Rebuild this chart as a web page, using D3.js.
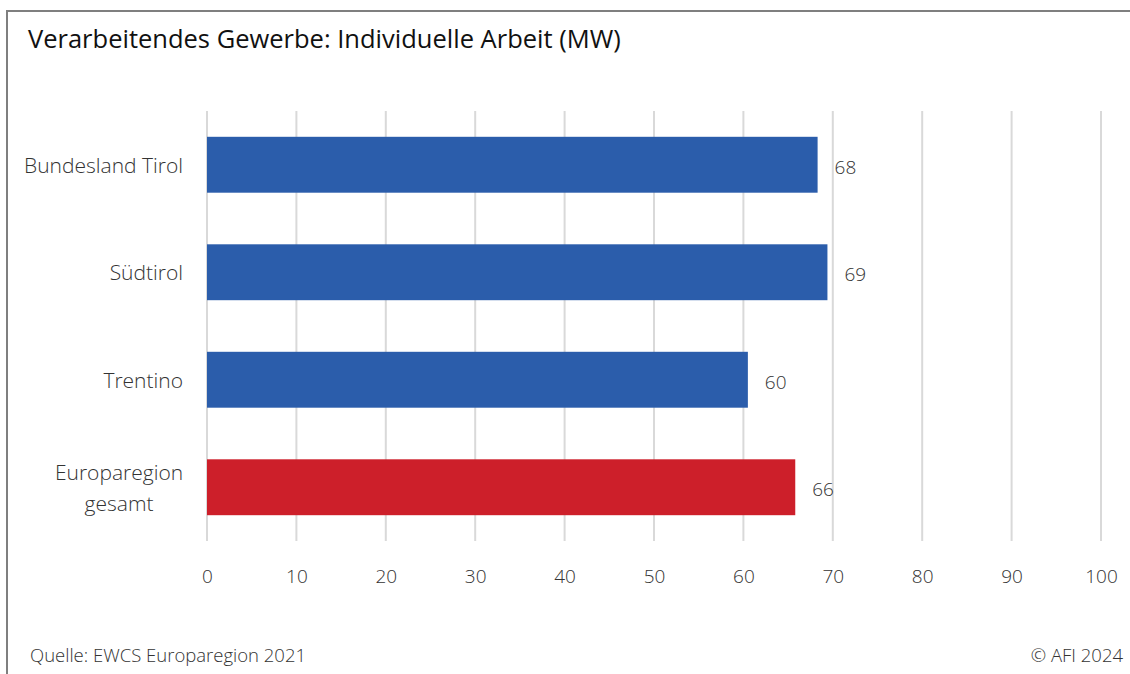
<!DOCTYPE html>
<html><head><meta charset="utf-8">
<script src="https://cdn.jsdelivr.net/npm/d3@7"></script>
<style>
body{margin:0;background:#fff;}
svg{display:block;font-family:"Open Sans","Noto Sans",sans-serif;font-weight:300;}
</style></head>
<body>
<svg id="c" width="1130" height="674"></svg>
<script>
const categories = ["Bundesland Tirol", "Südtirol", "Trentino", "Europaregion gesamt"];
const values = [68.3, 69.4, 60.5, 65.8];
const valueLabels = ["68", "69", "60", "66"];
const barColors = ["#2b5dab", "#2b5dab", "#2b5dab", "#cd1f2a"];
const ticks = [0, 10, 20, 30, 40, 50, 60, 70, 80, 90, 100];
const title = "Verarbeitendes Gewerbe: Individuelle Arbeit (MW)";
const source = "Quelle: EWCS Europaregion 2021";
const copyright = "© AFI 2024";

const svg = d3.select("#c");
svg.append("path").attr("d","M7,700 L7,11 L1135,11").attr("fill","none").attr("stroke","#7f7f7f").attr("stroke-width",2);

svg.append("text").attr("x",28).attr("y",48).attr("font-size",25.5).attr("font-weight",400).attr("fill","#111").text(title);

const x = d3.scaleLinear().domain([0,100]).range([207,1101]);
const y = d3.scaleBand().domain(categories).range([111,541]).paddingInner(0.48).paddingOuter(0.24);

svg.append("g").selectAll("line").data(ticks).join("line")
  .attr("x1",d=>x(d)).attr("x2",d=>x(d)).attr("y1",111).attr("y2",541)
  .attr("stroke","#d9d9d9").attr("stroke-width",2);

const ax = svg.append("g").attr("transform","translate(0,541)")
  .call(d3.axisBottom(x).tickValues(ticks).tickSize(0).tickPadding(29));
ax.select(".domain").remove();
ax.selectAll("text").attr("font-size",19).attr("fill","#333").attr("font-family","'Open Sans', 'Noto Sans', sans-serif").attr("font-weight",300);

svg.append("g").selectAll("rect").data(categories).join("rect")
  .attr("x",x(0)).attr("y",d=>y(d)).attr("height",y.bandwidth())
  .attr("width",(d,i)=>x(values[i])-x(0)).attr("fill",(d,i)=>barColors[i]);

svg.append("g").selectAll("text").data(categories).join("text")
  .attr("x",(d,i)=>x(values[i])+17).attr("y",d=>y(d)+y.bandwidth()/2+9)
  .attr("font-size",19).attr("fill","#333").text((d,i)=>valueLabels[i]);

const cl = svg.append("g").selectAll("text").data(categories).join("text")
  .attr("font-size",21).attr("fill","#333");
cl.each(function(d){
  const t = d3.select(this);
  const cy = y(d)+y.bandwidth()/2;
  if(d==="Europaregion gesamt"){
    t.attr("text-anchor","middle");
    t.append("tspan").attr("x",119).attr("y",cy-7).text("Europaregion");
    t.append("tspan").attr("x",119).attr("y",cy+24).text("gesamt");
  } else {
    t.attr("text-anchor","end").attr("x",183).attr("y",cy+8).text(d);
  }
});

svg.append("text").attr("x",30).attr("y",662).attr("font-size",18.5).attr("fill","#333").text(source);
svg.append("text").attr("x",1123).attr("y",662).attr("text-anchor","end").attr("font-size",18.5).attr("fill","#333").text(copyright);
</script>
</body></html>
